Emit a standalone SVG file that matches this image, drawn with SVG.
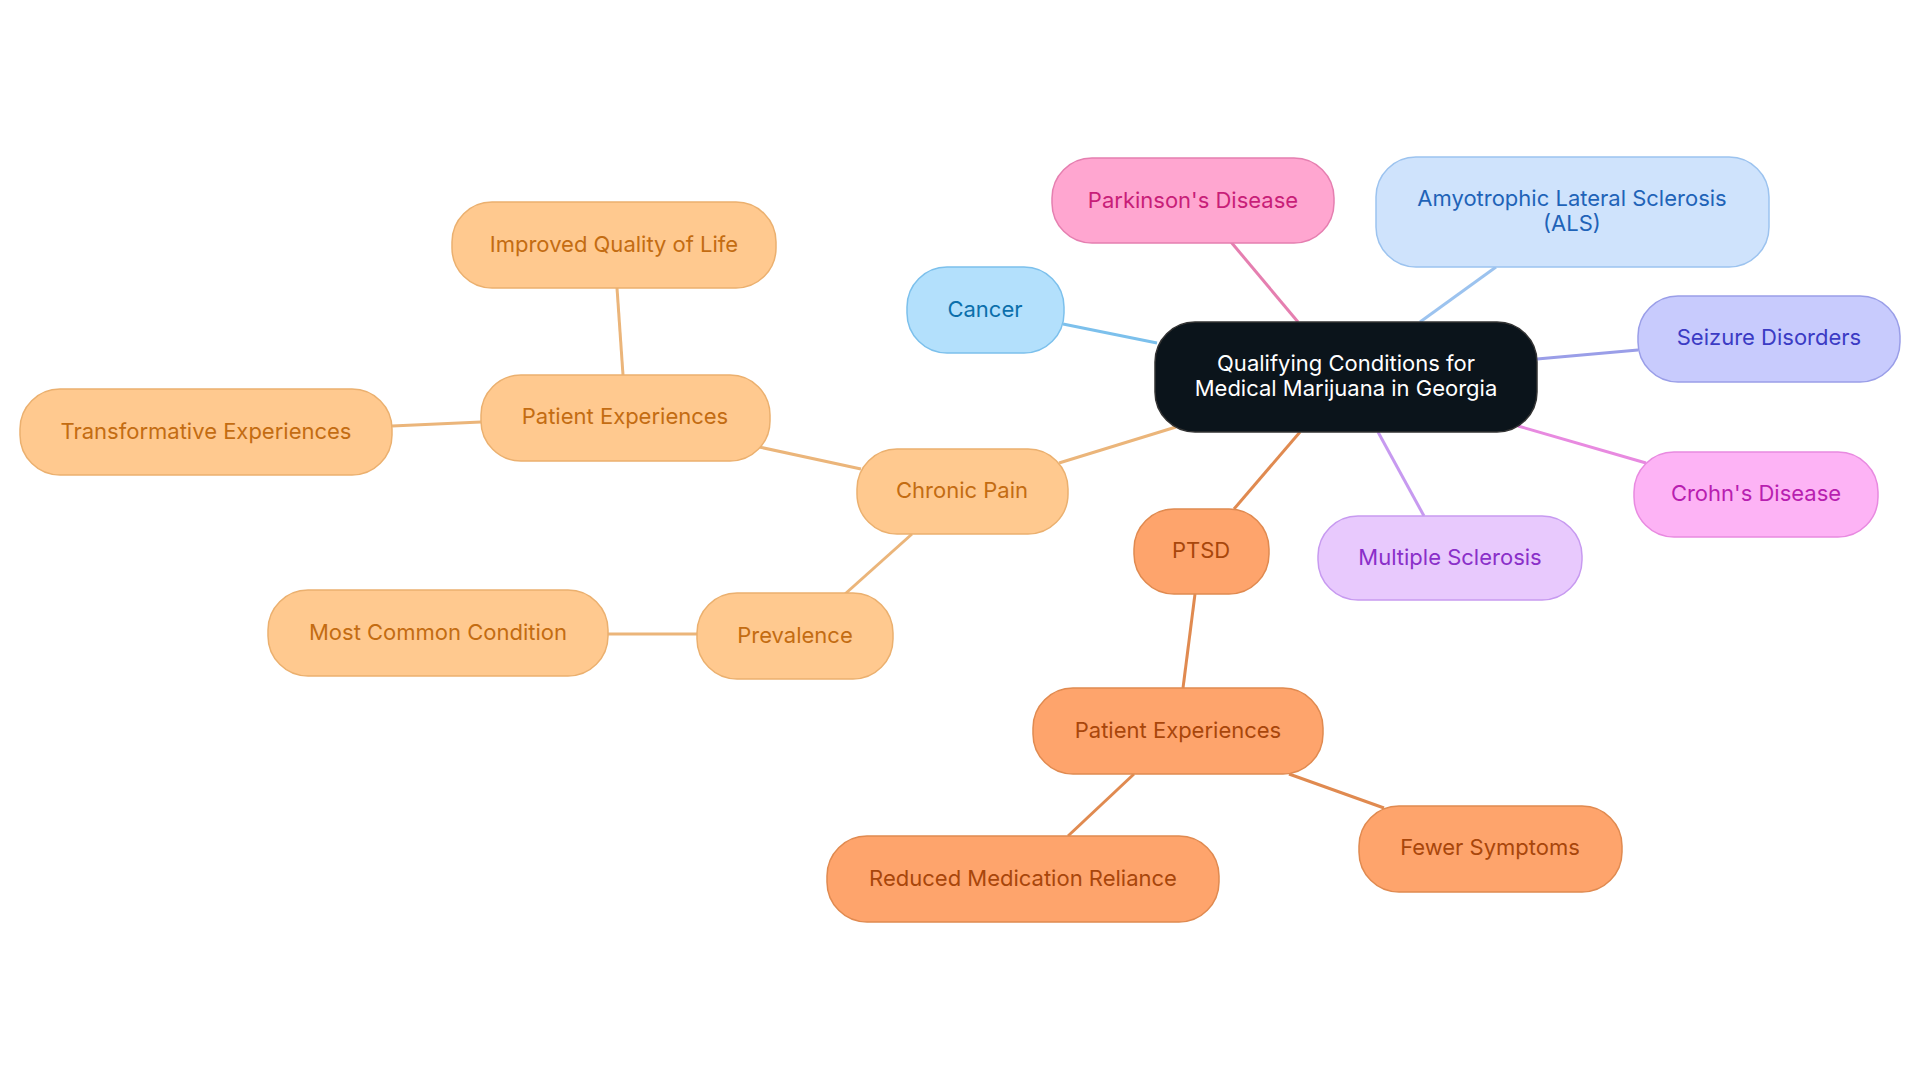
<svg xmlns="http://www.w3.org/2000/svg" width="1920" height="1083" viewBox="0 0 1920 1083">
<style>
text{font-family:Inter,"Noto Sans",sans-serif;font-size:22px;text-anchor:middle;dominant-baseline:central}
rect{stroke-width:1.5}
.e{stroke-width:3;fill:none}
.cp rect{fill:#ffc98f;stroke:#ebb06f}.cp text{fill:#c36c12}
.pt rect{fill:#fea46c;stroke:#e08a50}.pt text{fill:#a8460b}
</style>
<rect width="1920" height="1083" fill="#fff"/>
<g id="connectors">
<line class="e" stroke="#7cc0ec" x1="1063" y1="324" x2="1157" y2="343"/>
<line class="e" stroke="#e57fb0" x1="1231" y1="242" x2="1298" y2="322"/>
<line class="e" stroke="#9cc3ef" x1="1496" y1="267" x2="1420" y2="322"/>
<line class="e" stroke="#9a9ee8" x1="1537" y1="359" x2="1638" y2="350"/>
<line class="e" stroke="#e88ae0" x1="1518" y1="426" x2="1646" y2="463"/>
<line class="e" stroke="#c79af0" x1="1378" y1="432" x2="1424" y2="516"/>
<line class="e" stroke="#e08a50" x1="1300" y1="432" x2="1234" y2="509"/>
<line class="e" stroke="#ebb57a" x1="1176" y1="427" x2="1059" y2="463"/>
<line class="e" stroke="#ebb57a" x1="861" y1="469" x2="759" y2="447"/>
<line class="e" stroke="#ebb57a" x1="623" y1="375" x2="617" y2="288"/>
<line class="e" stroke="#ebb57a" x1="481" y1="422" x2="392" y2="426"/>
<line class="e" stroke="#ebb57a" x1="912" y1="534" x2="845" y2="594"/>
<line class="e" stroke="#ebb57a" x1="697" y1="634" x2="608" y2="634"/>
<line class="e" stroke="#e08a50" x1="1195" y1="594" x2="1183" y2="688"/>
<line class="e" stroke="#e08a50" x1="1134" y1="774" x2="1068" y2="836"/>
<line class="e" stroke="#e08a50" x1="1289" y1="774" x2="1384" y2="808"/>
</g>
<g id="center"><rect x="1155" y="322" width="382" height="110" rx="40" fill="#0b141b" stroke="#333"/><text x="1346" y="363" fill="#fff">Qualifying Conditions for</text><text x="1346" y="388" fill="#fff">Medical Marijuana in Georgia</text></g>
<g id="parkinsons"><rect x="1052" y="158" width="282" height="85" rx="40" fill="#ffa6d0" stroke="#e57fb0"/><text x="1193" y="200" fill="#c81e78">Parkinson's Disease</text></g>
<g id="als"><rect x="1376" y="157" width="393" height="110" rx="40" fill="#cfe3fc" stroke="#9cc3ef"/><text x="1572" y="198" fill="#1f63b8">Amyotrophic Lateral Sclerosis</text><text x="1572" y="223" fill="#1f63b8">(ALS)</text></g>
<g id="cancer"><rect x="907" y="267" width="157" height="86" rx="40" fill="#b3e0fc" stroke="#7cc0ec"/><text x="985" y="309" fill="#0b6fab">Cancer</text></g>
<g id="seizure"><rect x="1638" y="296" width="262" height="86" rx="40" fill="#c8cbfd" stroke="#9a9ee8"/><text x="1769" y="337" fill="#3b3bc4">Seizure Disorders</text></g>
<g id="crohns"><rect x="1634" y="452" width="244" height="85" rx="40" fill="#fdb3f5" stroke="#e88ae0"/><text x="1756" y="493" fill="#b81eb0">Crohn's Disease</text></g>
<g id="ms"><rect x="1318" y="516" width="264" height="84" rx="40" fill="#e8c9fd" stroke="#c79af0"/><text x="1450" y="557" fill="#8a2fc9">Multiple Sclerosis</text></g>
<g id="ptsd" class="pt"><rect x="1134" y="509" width="135" height="85" rx="40"/><text x="1201" y="550">PTSD</text></g>
<g id="chronic" class="cp"><rect x="857" y="449" width="211" height="85" rx="40"/><text x="962" y="490">Chronic Pain</text></g>
<g id="pe1" class="cp"><rect x="481" y="375" width="289" height="86" rx="40"/><text x="625" y="416">Patient Experiences</text></g>
<g id="iql" class="cp"><rect x="452" y="202" width="324" height="86" rx="40"/><text x="614" y="244">Improved Quality of Life</text></g>
<g id="trans" class="cp"><rect x="20" y="389" width="372" height="86" rx="40"/><text x="206" y="431">Transformative Experiences</text></g>
<g id="prev" class="cp"><rect x="697" y="593" width="196" height="86" rx="40"/><text x="795" y="635">Prevalence</text></g>
<g id="mcc" class="cp"><rect x="268" y="590" width="340" height="86" rx="40"/><text x="438" y="632">Most Common Condition</text></g>
<g id="pe2" class="pt"><rect x="1033" y="688" width="290" height="86" rx="40"/><text x="1178" y="730">Patient Experiences</text></g>
<g id="reduced" class="pt"><rect x="827" y="836" width="392" height="86" rx="40"/><text x="1023" y="878">Reduced Medication Reliance</text></g>
<g id="fewer" class="pt"><rect x="1359" y="806" width="263" height="86" rx="40"/><text x="1490" y="847">Fewer Symptoms</text></g>
</svg>
